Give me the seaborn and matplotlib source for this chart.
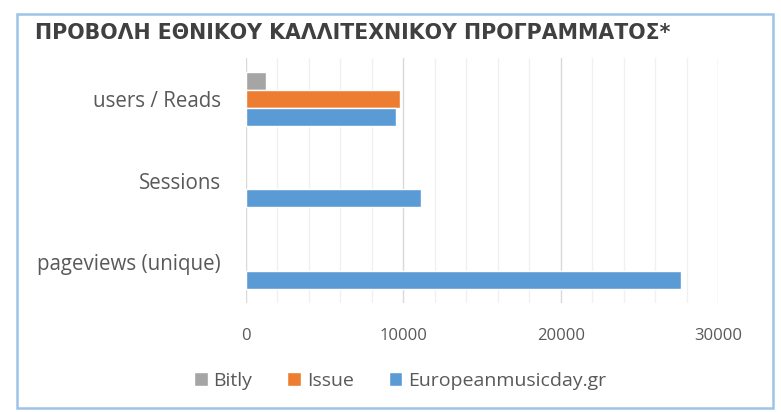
import matplotlib
matplotlib.use("Agg")
import matplotlib.pyplot as plt
import matplotlib.patches as mpatches
from matplotlib.ticker import MultipleLocator
import pandas as pd
import seaborn as sns

# data
categories = ["users / Reads", "Sessions", "pageviews (unique)"]
series = ["Bitly", "Issue", "Europeanmusicday.gr"]
europeanmusicday = [9520, 11100, 27650]
issue = [9760, None, None]
bitly = [1300, None, None]
colors = ["#A5A5A5", "#ED7D31", "#5B9BD5"]

rows = []
for name, vals in zip(series, [bitly, issue, europeanmusicday]):
    for cat, v in zip(categories, vals):
        if v is not None:
            rows.append({"category": cat, "source": name, "value": v})
df = pd.DataFrame(rows)

sns.set_style("white")
plt.rcParams["font.family"] = ["Open Sans", "DejaVu Sans"]

fig = plt.figure(figsize=(7.81, 4.12), dpi=100)
ax = fig.add_axes([246 / 781, 1 - 303 / 412, (718 - 246) / 781, (303 - 58) / 412])

sns.barplot(data=df, x="value", y="category", hue="source", order=categories,
            hue_order=series, palette=colors, orient="h", width=0.66, gap=0,
            saturation=1, errorbar=None, ax=ax, zorder=3)

ax.set_xlim(0, 30000)
ax.xaxis.set_major_locator(MultipleLocator(10000))
ax.xaxis.set_minor_locator(MultipleLocator(2000))
ax.grid(True, which="major", axis="x", color="#D9D9D9", lw=1, zorder=0)
ax.grid(True, which="minor", axis="x", color="#F0F0F0", lw=1, zorder=0)
ax.set_axisbelow(True)
for s in ax.spines.values():
    s.set_visible(False)
ax.tick_params(axis="both", which="both", length=0, colors="#595959")
ax.tick_params(axis="x", pad=18, labelsize=12)
ax.tick_params(axis="y", pad=18, labelsize=14.8)
ax.set_xlabel("")
ax.set_ylabel("")

handles, labels = ax.get_legend_handles_labels()
ax.legend(handles, labels, loc="center", bbox_to_anchor=(400 / 781, 1 - 381 / 412),
          bbox_transform=fig.transFigure, ncol=3, frameon=False, fontsize=14,
          labelcolor="#595959", handlelength=0.7, handleheight=0.7,
          handletextpad=0.3, columnspacing=1.8)

fig.text(35 / 781, 1 - 33 / 412, "ΠΡΟΒΟΛΗ ΕΘΝΙΚΟΥ ΚΑΛΛΙΤΕΧΝΙΚΟΥ ΠΡΟΓΡΑΜΜΑΤΟΣ*",
         fontsize=14.8, fontweight="bold", color="#404040", va="center", ha="left",
         family=["DejaVu Sans"])

fig.patches.append(mpatches.Rectangle((17 / 781, 1 - 408 / 412), (773 - 17) / 781,
                                      (408 - 14) / 412, transform=fig.transFigure,
                                      fill=False, edgecolor="#9DC3E6", lw=1.8))

fig.savefig("out.png", dpi=100)
